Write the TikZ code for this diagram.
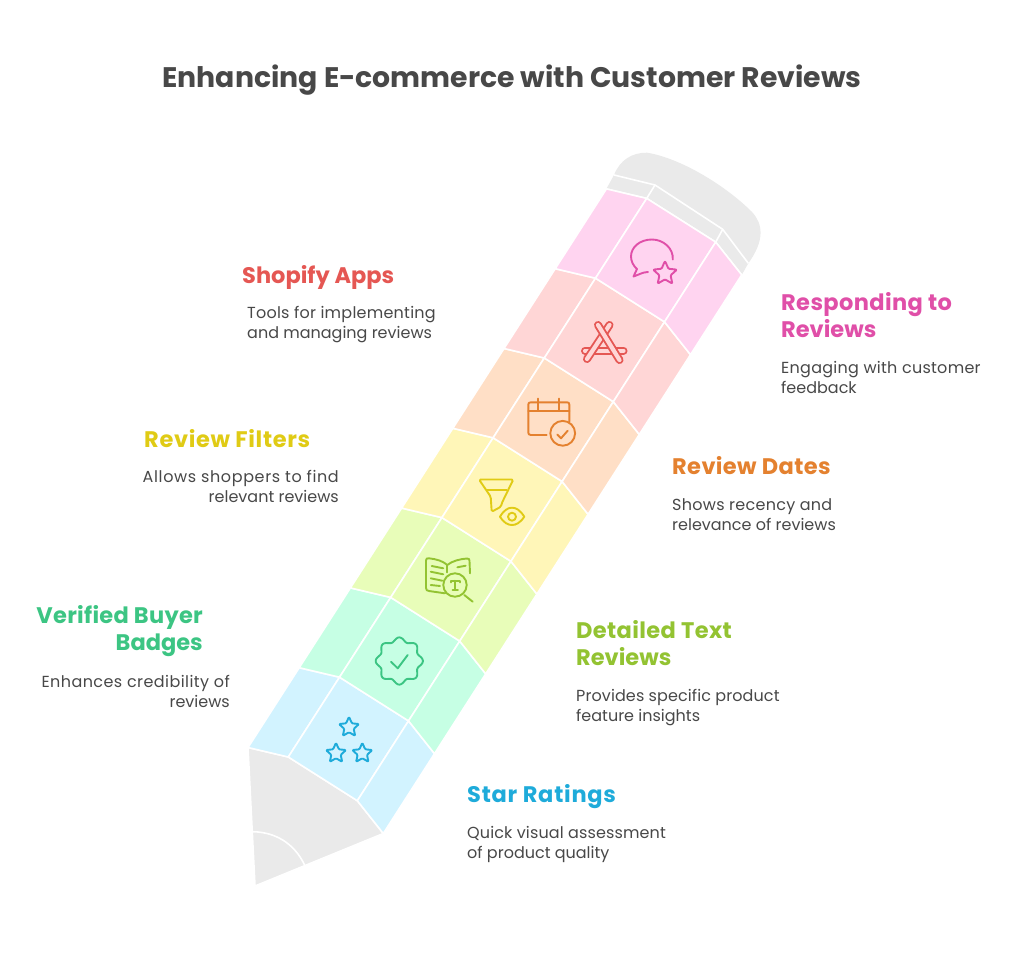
\documentclass[tikz,border=0pt]{standalone}
\usepackage{fontspec}
\setmainfont{Poppins}
\newfontfamily\headfont{Poppins Bold}
\newcommand{\spaced}[1]{\addfontfeature{LetterSpace=#1}}
\definecolor{ink}{HTML}{484848}
\definecolor{pencil}{HTML}{EAEAEA}
\definecolor{cblue}{HTML}{D2F3FF}\definecolor{tblue}{HTML}{1EABDA}
\definecolor{cgreen}{HTML}{C6FFE4}\definecolor{tgreen}{HTML}{3CC583}
\definecolor{clime}{HTML}{E8FDB9}\definecolor{tlime}{HTML}{93C332}
\definecolor{cyellow}{HTML}{FFF6B8}\definecolor{tyellow}{HTML}{E0CB15}
\definecolor{corange}{HTML}{FFDFC6}\definecolor{torange}{HTML}{E4812F}
\definecolor{cred}{HTML}{FFD6D6}\definecolor{tred}{HTML}{E55753}
\definecolor{cpink}{HTML}{FFD4F0}\definecolor{tpink}{HTML}{E04FA8}
\tikzset{
  x=1pt,y=-1pt,
  piece/.style={fill=#1,draw=white,line width=1.6pt,line join=round},
  icon/.style={draw=#1,line width=1.9pt,line cap=round,line join=round},
  titletext/.style={inner sep=0,font=\headfont\fontsize{28.3}{34}\selectfont,text=ink},
  head/.style={inner sep=0,font=\headfont\fontsize{22.5}{27}\selectfont,text=#1},
  body/.style={inner sep=0,font=\fontsize{16}{20}\selectfont,text=ink},
  starpic/.pic={\draw[pic actions,rounded corners=1pt]
     (-90:#1)--(-54:0.47*#1)--(-18:#1)--(18:0.47*#1)--(54:#1)--(90:0.47*#1)--(126:#1)--(162:0.47*#1)--(198:#1)--(234:0.47*#1)--cycle;},
}
\begin{document}
\begin{tikzpicture}
\useasboundingbox (0,0) rectangle (1024,955);
\fill[white] (0,0) rectangle (1024,955);
% pencil body coordinates
\foreach \i in {0,...,7}{
  \coordinate (L\i) at ({248+51.2*\i},{747.5-79.8*\i});
  \coordinate (A\i) at ({288.3+51.2*\i},{757-79.8*\i});
  \coordinate (B\i) at ({357.3+51.2*\i},{800.7-79.8*\i});
  \coordinate (R\i) at ({383.3+51.2*\i},{833.5-79.8*\i});
}
% tip
\path[piece=pencil] (L0)--(A0)--(B0)--(R0)--(255,886)--cycle;
\draw[white,line width=1.6pt] (252.3,831.7) .. controls (280,832) and (297,848) .. (305,866);
% eraser
\path[fill=pencil] (614,175) .. controls (620,160) and (632,152.5) .. (647,152.7) .. controls (680,158) and (725,185) .. (752,212) .. controls (763,224) and (765,240) .. (748.3,263.3) -- (741.7,274.9) -- (B7) -- (A7) -- (L7) -- cycle;
\draw[white,line width=1.6pt,line join=round] (614,175)--(655,185)--(722.7,229.3)--(748.3,263.3);
\draw[white,line width=1.6pt] (L7)--(A7)--(B7)--(R7);
\draw[white,line width=1.6pt] (A7)--(655,185);
\draw[white,line width=1.6pt] (B7)--(722.7,229.3);
% cells
\foreach \i/\j/\c in {0/1/cblue,1/2/cgreen,2/3/clime,3/4/cyellow,4/5/corange,5/6/cred,6/7/cpink}{
  \path[piece=\c] (L\i)--(L\j)--(A\j)--(A\i)--cycle;
  \path[piece=\c] (A\i)--(A\j)--(B\j)--(B\i)--cycle;
  \path[piece=\c] (B\i)--(B\j)--(R\j)--(R\i)--cycle;
}
% pink icon
\draw[icon=tpink] (672.8,259.5) .. controls (673.5,248) and (663,239.5) .. (652,239.5) .. controls (640,239.5) and (631,247) .. (631,256.5) .. controls (631,261.5) and (633.5,266) .. (637,269) -- (633.5,276.5) .. controls (638,275) and (643,272) .. (648,272);
\pic[icon=tpink] at (665,273.5) {starpic=12.5};
% red icon
\draw[tred,line width=8pt,line cap=round] (585,350.7)--(623.5,350.7);
\draw[cred,line width=4.2pt,line cap=round] (585,350.7)--(623.5,350.7);
\draw[tred,line width=8pt,line cap=round] (609.5,325)--(587,359);
\draw[cred,line width=4.2pt,line cap=round] (609.5,325)--(587,359);
\draw[tred,line width=8pt,line cap=round] (598,325)--(619.5,360);
\draw[cred,line width=4.2pt,line cap=round] (598,325)--(619.5,360);
% orange icon
\draw[icon=torange] (546.7,435)--(531,435) .. controls (529,435) and (528.3,434) .. (528.3,432.5)--(528.3,404.5) .. controls (528.3,403) and (529,402.3) .. (531,402.3)--(567,402.3) .. controls (568.5,402.3) and (569.3,403) .. (569.3,404.5)--(569.3,421.5);
\draw[icon=torange] (528.3,410.7)--(569.3,410.7);
\draw[icon=torange] (538.3,398.5)--(538.3,410.7);
\draw[icon=torange] (559,398.5)--(559,410.7);
\draw[icon=torange] (562.7,433.3) circle[radius=12.4];
\draw[icon=torange] (557.3,434.5)--(561,438.3)--(567.7,430.7);
% yellow icon
\draw[icon=tyellow,rounded corners=1.5pt] (479,479.5)--(513.3,479.5)--(501.7,503.3)--(501,506.7)--(491.7,511.7)--(490.7,496.7)--cycle;
\draw[icon=tyellow] (487.3,490)--(506.7,490);
\draw[icon=tyellow] (500,516.7) .. controls (504,510) and (508,507.7) .. (512,507.7) .. controls (516,507.7) and (520,510) .. (524.3,516.7) .. controls (520,523) and (516,525) .. (512,525) .. controls (508,525) and (504,523) .. (500,516.7) -- cycle;
\draw[icon=tyellow] (512,516.7) circle[radius=4];
% lime icon
\draw[icon=tlime] (445,593.3)--(429,591) .. controls (427,590.7) and (426,590) .. (426,588)--(426,560.5) .. controls (426,558.5) and (427,558) .. (429,558.3) .. controls (436,559) and (443,561) .. (447.3,565) .. controls (452,561) and (460,559) .. (467,558.5) .. controls (469,558.4) and (469.5,559.5) .. (469.5,561)--(470,573.3);
\draw[icon=tlime] (447.3,565)--(447.3,572.5);
\draw[icon=tlime] (431.7,566)--(443.3,568.3);
\draw[icon=tlime] (430.7,571.7)--(443.3,574.3);
\draw[icon=tlime] (430.7,578.3)--(442.3,580.7);
\draw[icon=tlime] (430.7,585)--(440,586);
\draw[icon=tlime] (457.3,567.3)--(465.7,565.7);
\draw[icon=tlime] (455,585) circle[radius=11.7];
\draw[icon=tlime] (464.3,595)--(472.7,601.7);
\draw[icon=tlime] (450.7,582.5)--(450.7,580.7)--(459.7,580.7)--(459.7,582.5);
\draw[icon=tlime] (455.2,580.7)--(455.2,590);
\draw[icon=tlime] (452.5,590)--(458,590);
% green icon
\begin{scope}[shift={(399.3,661)}]
\draw[icon=tgreen] plot[domain=0:360,samples=145,smooth] (\x:{21.6+2*cos(8*\x)}) -- cycle;
\end{scope}
\draw[icon=tgreen] (391,661.7)--(397.7,668.3)--(407.7,655);
% blue icon
\pic[icon=tblue] at (349,727.3) {starpic=10.5};
\pic[icon=tblue] at (336,753.3) {starpic=10.5};
\pic[icon=tblue] at (362.3,753.3) {starpic=10.5};
% texts
\node[titletext,anchor=base] (title) at (512,88) {Enhancing E-commerce with Customer Reviews};
\node[head=tpink,anchor=base west,align=left] (h7) at (781,337) {\spaced{1.7}Responding to\\Reviews};
\node[body,anchor=base west,align=left] (b7) at (781,393) {\spaced{1.7}Engaging with customer\\feedback};
\node[head=tred,anchor=base west] (h6) at (242,283) {Shopify Apps};
\node[body,anchor=base west,align=left] (b6) at (247,338) {\spaced{1.5}Tools for implementing\\and managing reviews};
\node[head=torange,anchor=base west] (h5) at (672,474) {\spaced{1.7}Review Dates};
\node[body,anchor=base west,align=left] (b5) at (672,530) {\spaced{1.7}Shows recency and\\relevance of reviews};
\node[head=tyellow,anchor=base west] (h4) at (144,447) {\spaced{2.9}Review Filters};
\node[body,anchor=base east,align=right] (b4) at (339,502) {\spaced{3.9}Allows shoppers to find\\relevant reviews};
\node[head=tlime,anchor=base west,align=left] (h3) at (576,665) {\spaced{1.7}Detailed Text\\Reviews};
\node[body,anchor=base west,align=left] (b3) at (576,721) {\spaced{0.6}Provides specific product\\feature insights};
\node[head=tgreen,anchor=base east,align=right] (h2) at (203,650) {\spaced{1.3}Verified Buyer\\Badges};
\node[body,anchor=base east,align=right] (b2) at (230,707) {\spaced{2.7}Enhances credibility of\\reviews};
\node[head=tblue,anchor=base west] (h1) at (467,802) {\spaced{3.3}Star Ratings};
\node[body,anchor=base west,align=left] (b1) at (467,858) {\spaced{0.8}Quick visual assessment\\of product quality};
\end{tikzpicture}
\end{document}
